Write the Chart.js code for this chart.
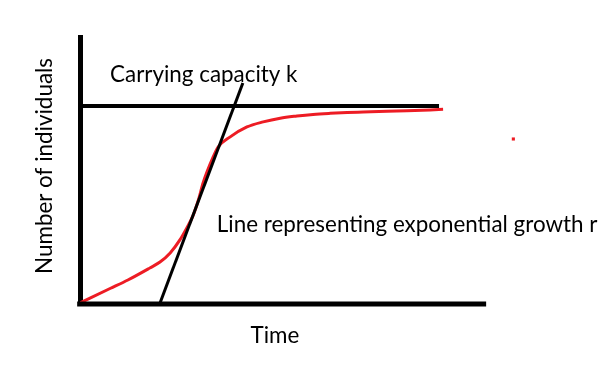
<!DOCTYPE html>
<html>
<head>
<meta charset="utf-8">
<title>Logistic growth</title>
<script src="https://cdn.jsdelivr.net/npm/chart.js@4.4.1/dist/chart.umd.min.js"></script>
<style>
  html, body { margin: 0; padding: 0; background: #fff; }
  canvas { display: block; }
</style>
</head>
<body>
<canvas id="growthChart" width="612" height="371"></canvas>
<script>
// values (x: time units, y: individuals 0-100)
const curveTime = [0, 0.74, 1.18, 1.72, 1.97, 2.22, 2.46, 2.64, 2.78, 2.93, 3.03, 3.28, 3.40, 3.69, 4.11, 4.51, 4.93, 5.34, 5.74, 6.16, 6.58, 6.97, 7.56, 8.05, 8.62, 8.94];
const curveIndividuals = [0.4, 5.8, 9.0, 13.5, 15.7, 19.1, 24.0, 28.8, 33.0, 39.7, 45.3, 55.1, 58.8, 62.5, 66.3, 68.2, 69.6, 70.4, 71.0, 71.4, 71.7, 71.9, 72.2, 72.4, 72.7, 72.9];

const capacityTime = [0, 8.84];
const capacityLevel = [74.2, 74.2];

const tangentTime = [1.97, 4.01];
const tangentIndividuals = [0.4, 82.8];

const timeAxisTime = [-0.07, 10.0];
const timeAxisLevel = [0, 0];

const strayDot = [{x: 10.67, y: 61.8}];

const labelTexts = ['Carrying capacity k', 'Line representing exponential growth r', 'Time', 'Number of individuals'];

const toPoints = (xs, ys) => xs.map((x, i) => ({x: x, y: ys[i]}));

const RED = '#ED1C24';
const FONT = '22.4px Lato, "Open Sans", sans-serif';

// draws the free text of the sketch, placed through the scales
const textPlugin = {
  id: 'sketchText',
  afterDraw(chart) {
    const {ctx, scales: {x, y}} = chart;
    ctx.save();
    ctx.fillStyle = '#000';
    ctx.font = FONT;
    ctx.textBaseline = 'alphabetic';

    ctx.textAlign = 'left';
    ctx.fillText(labelTexts[0], x.getPixelForValue(0.74), y.getPixelForValue(83.1));
    ctx.fillText(labelTexts[1], x.getPixelForValue(3.37), y.getPixelForValue(27.0));

    ctx.textAlign = 'center';
    ctx.fillText(labelTexts[2], x.getPixelForValue(4.80), y.getPixelForValue(-14.6));

    ctx.translate(x.getPixelForValue(-0.69), y.getPixelForValue(51.7));
    ctx.rotate(-Math.PI / 2);
    ctx.fillText(labelTexts[3], 0, 0);
    ctx.restore();
  }
};

const ctx = document.getElementById('growthChart').getContext('2d');
new Chart(ctx, {
  type: 'line',
  data: {
    datasets: [
      {
        data: toPoints(tangentTime, tangentIndividuals),
        borderColor: '#000',
        borderWidth: 3,
        pointRadius: 0,
        order: 1
      },
      {
        data: toPoints(capacityTime, capacityLevel),
        borderColor: '#000',
        borderWidth: 4,
        pointRadius: 0,
        order: 2
      },
      {
        // the time axis, drawn as a line so the chart area can reach the stray dot
        data: toPoints(timeAxisTime, timeAxisLevel),
        borderColor: '#000',
        borderWidth: 5,
        pointRadius: 0,
        clip: false,
        order: 0
      },
      {
        data: toPoints(curveTime, curveIndividuals),
        borderColor: RED,
        borderWidth: 3,
        cubicInterpolationMode: 'monotone',
        pointRadius: 0,
        order: 3
      },
      {
        type: 'scatter',
        data: strayDot,
        pointStyle: 'rect',
        pointRadius: 2.2,
        backgroundColor: RED,
        borderColor: RED,
        borderWidth: 0,
        order: 4
      }
    ]
  },
  options: {
    responsive: false,
    animation: false,
    layout: {
      padding: {left: 80, right: 82, top: 37, bottom: 67}
    },
    plugins: {
      legend: {display: false},
      tooltip: {enabled: false}
    },
    scales: {
      x: {
        type: 'linear',
        min: 0,
        max: 11.08,
        grid: {display: false, drawTicks: false},
        ticks: {display: false},
        border: {display: false}
      },
      y: {
        type: 'linear',
        min: 0,
        max: 100,
        grid: {display: false, drawTicks: false},
        ticks: {display: false},
        border: {display: true, color: '#000', width: 5}
      }
    }
  },
  plugins: [textPlugin]
});
</script>
</body>
</html>
